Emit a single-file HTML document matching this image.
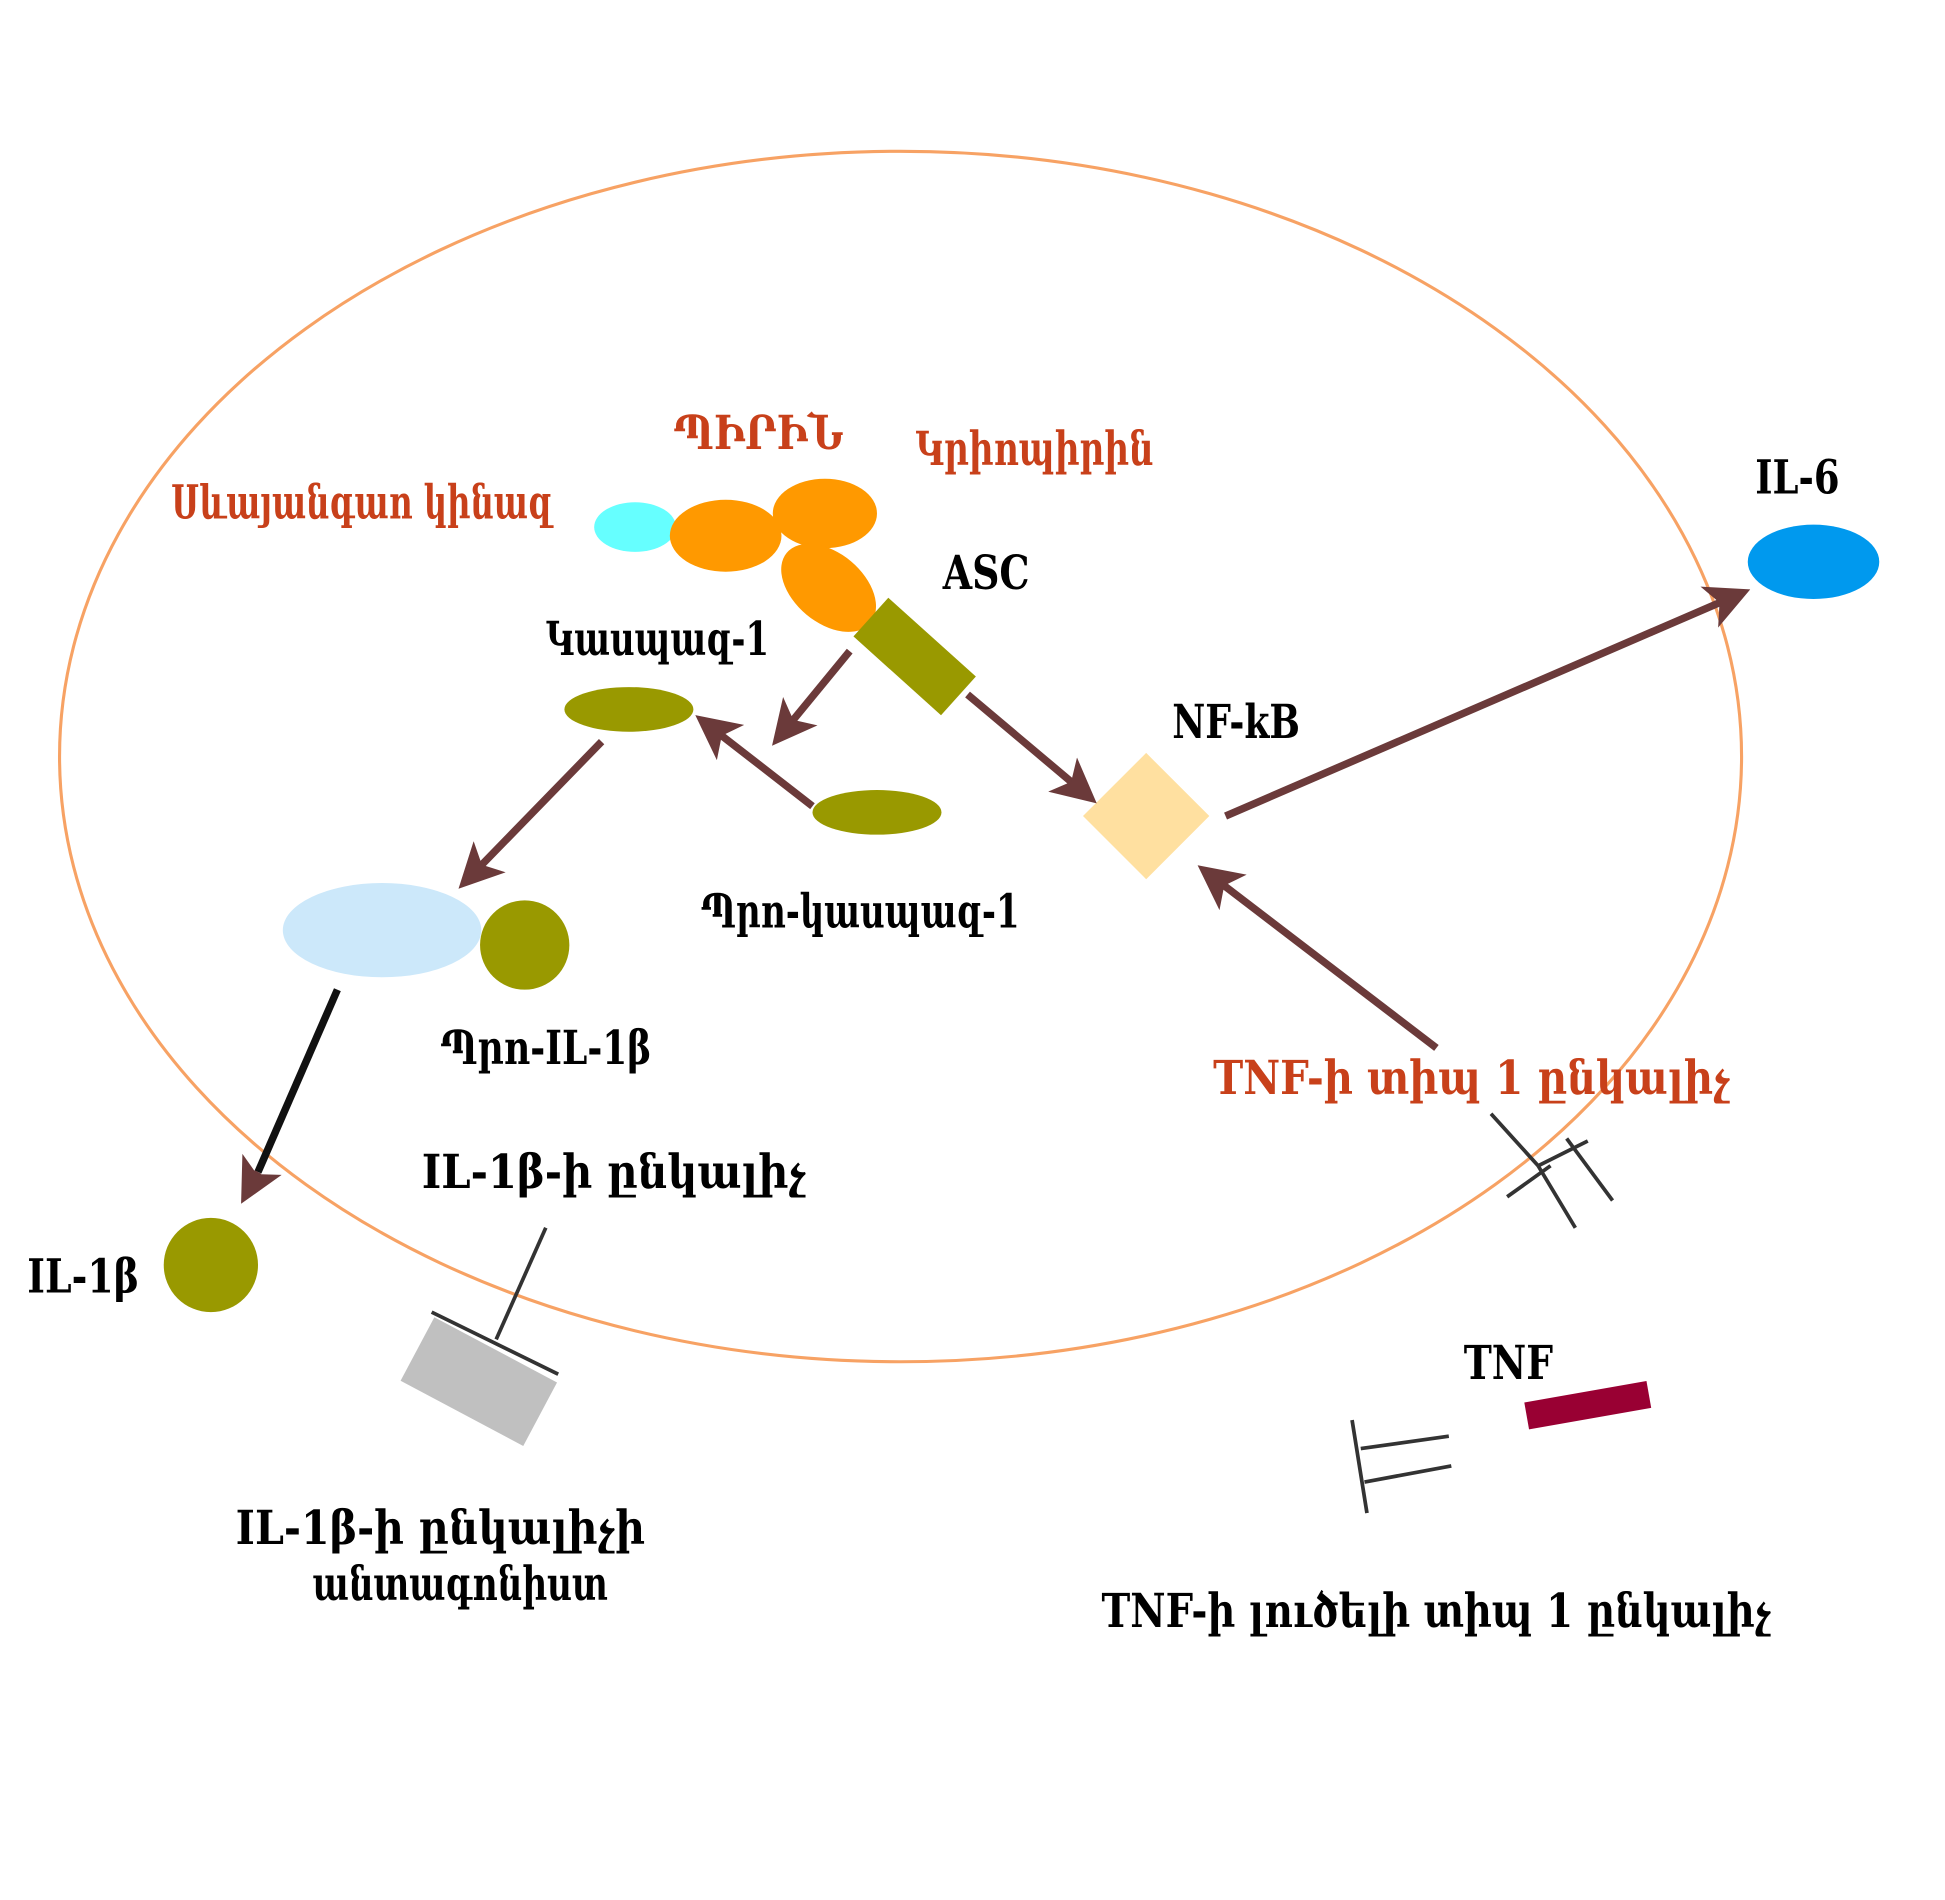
<!DOCTYPE html>
<html><head><meta charset="utf-8"><style>html,body{margin:0;padding:0;background:#fff}svg{display:block}
text{font-family:"DejaVu Serif","Liberation Serif",serif;font-weight:bold}</style></head>
<body>
<svg width="1945" height="1900" viewBox="0 0 1568 1532" preserveAspectRatio="none" xmlns="http://www.w3.org/2000/svg">
<defs>
<marker id="ah" markerWidth="6" markerHeight="6" refX="4" refY="3" orient="auto" markerUnits="strokeWidth">
<path d="M0,0 L6,3 L0,6 L1.5,3 Z" fill="#6b3a3a"/>
</marker>
</defs>
<ellipse cx="726" cy="610" rx="678" ry="488" fill="none" stroke="#f7a264" stroke-width="2.5"/>

<g fill="#c8401a" font-size="38">
<text x="138" y="418" textLength="307" lengthAdjust="spacingAndGlyphs">Սևայանգաո կինազ</text>
<text x="543" y="362" textLength="137" lengthAdjust="spacingAndGlyphs">ՊԻՐԻՆ</text>
<text x="738" y="375" textLength="192" lengthAdjust="spacingAndGlyphs">Կրիոպիրին</text>
<text x="978" y="882" textLength="417" lengthAdjust="spacingAndGlyphs">TNF-ի  տիպ 1  ընկալիչ</text>
</g>
<g fill="#000" font-size="38">
<text x="760" y="475" textLength="70" lengthAdjust="spacingAndGlyphs">ASC</text>
<text x="440" y="528" textLength="180" lengthAdjust="spacingAndGlyphs">Կասպազ-1</text>
<text x="945" y="595" textLength="103" lengthAdjust="spacingAndGlyphs">NF-kB</text>
<text x="1415" y="398" textLength="68" lengthAdjust="spacingAndGlyphs">IL-6</text>
<text x="565" y="748" textLength="257" lengthAdjust="spacingAndGlyphs">Պրո-կասպազ-1</text>
<text x="355" y="858" textLength="170" lengthAdjust="spacingAndGlyphs">Պրո-IL-1β</text>
<text x="340" y="958" textLength="310" lengthAdjust="spacingAndGlyphs">IL-1β-ի ընկալիչ</text>
<text x="22" y="1042" textLength="90" lengthAdjust="spacingAndGlyphs">IL-1β</text>
<text x="1180" y="1112" textLength="72" lengthAdjust="spacingAndGlyphs">TNF</text>
<text x="190" y="1245" textLength="330" lengthAdjust="spacingAndGlyphs">IL-1β-ի ընկալիչի</text>
<text x="252" y="1290" textLength="238" lengthAdjust="spacingAndGlyphs">անտագոնիստ</text>
<text x="888" y="1312" textLength="540" lengthAdjust="spacingAndGlyphs">TNF-ի լուծելի տիպ 1  ընկալիչ</text>
</g>

<ellipse cx="512" cy="425" rx="33" ry="20" fill="#66ffff"/>
<ellipse cx="585" cy="432" rx="45" ry="29" fill="#ff9900"/>
<ellipse cx="665" cy="414" rx="42" ry="28" fill="#ff9900"/>
<ellipse cx="668" cy="474" rx="44" ry="28" fill="#ff9900" transform="rotate(40 668 474)"/>
<rect x="690" y="508" width="95" height="42" fill="#999900" transform="rotate(42 737 529)"/>
<ellipse cx="507" cy="572" rx="52" ry="18" fill="#999900"/>
<ellipse cx="707" cy="655" rx="52" ry="18" fill="#999900"/>
<ellipse cx="308" cy="750" rx="80" ry="38" fill="#cce8fa"/>
<circle cx="423" cy="762" r="36" fill="#999900"/>
<circle cx="170" cy="1020" r="38" fill="#999900"/>
<ellipse cx="1462" cy="453" rx="53" ry="30" fill="#0099ee"/>
<rect x="888" y="622" width="72" height="72" fill="#ffe0a0" transform="rotate(45 924 658)"/>

<g stroke="#6b3a3a" stroke-width="6" fill="none" marker-end="url(#ah)">
<line x1="685" y1="525" x2="630" y2="592"/>
<line x1="655" y1="650" x2="570" y2="584"/>
<line x1="485" y1="598" x2="378" y2="708"/>
<line x1="780" y1="560" x2="875" y2="640"/>
<line x1="988" y1="658" x2="1400" y2="480"/>
<line x1="1158" y1="845" x2="975" y2="705"/>
</g>
<line x1="272" y1="798" x2="208" y2="945" stroke="#111" stroke-width="6"/>
<line x1="208" y1="945" x2="200" y2="960" stroke="#6b3a3a" stroke-width="6" marker-end="url(#ah)"/>

<g stroke="#333" stroke-width="3" fill="none">
<line x1="1202" y1="898" x2="1240" y2="940"/>
<line x1="1240" y1="940" x2="1270" y2="990"/>
<line x1="1240" y1="940" x2="1280" y2="920"/>
<line x1="1263" y1="918" x2="1300" y2="968"/>
<line x1="1215" y1="965" x2="1250" y2="940"/>
<line x1="440" y1="990" x2="400" y2="1080"/>
<line x1="1090" y1="1145" x2="1102" y2="1220"/>
<line x1="1097" y1="1168" x2="1168" y2="1158"/>
<line x1="1100" y1="1195" x2="1170" y2="1182"/>
</g>
<rect x="330" y="1085" width="112" height="58" fill="#c0c0c0" transform="rotate(28 386 1114)"/>
<line x1="348" y1="1058" x2="450" y2="1108" stroke="#333" stroke-width="3"/>
<rect x="1230" y="1122" width="100" height="22" fill="#990033" transform="rotate(-10 1280 1133)"/>
</svg>
</body></html>
